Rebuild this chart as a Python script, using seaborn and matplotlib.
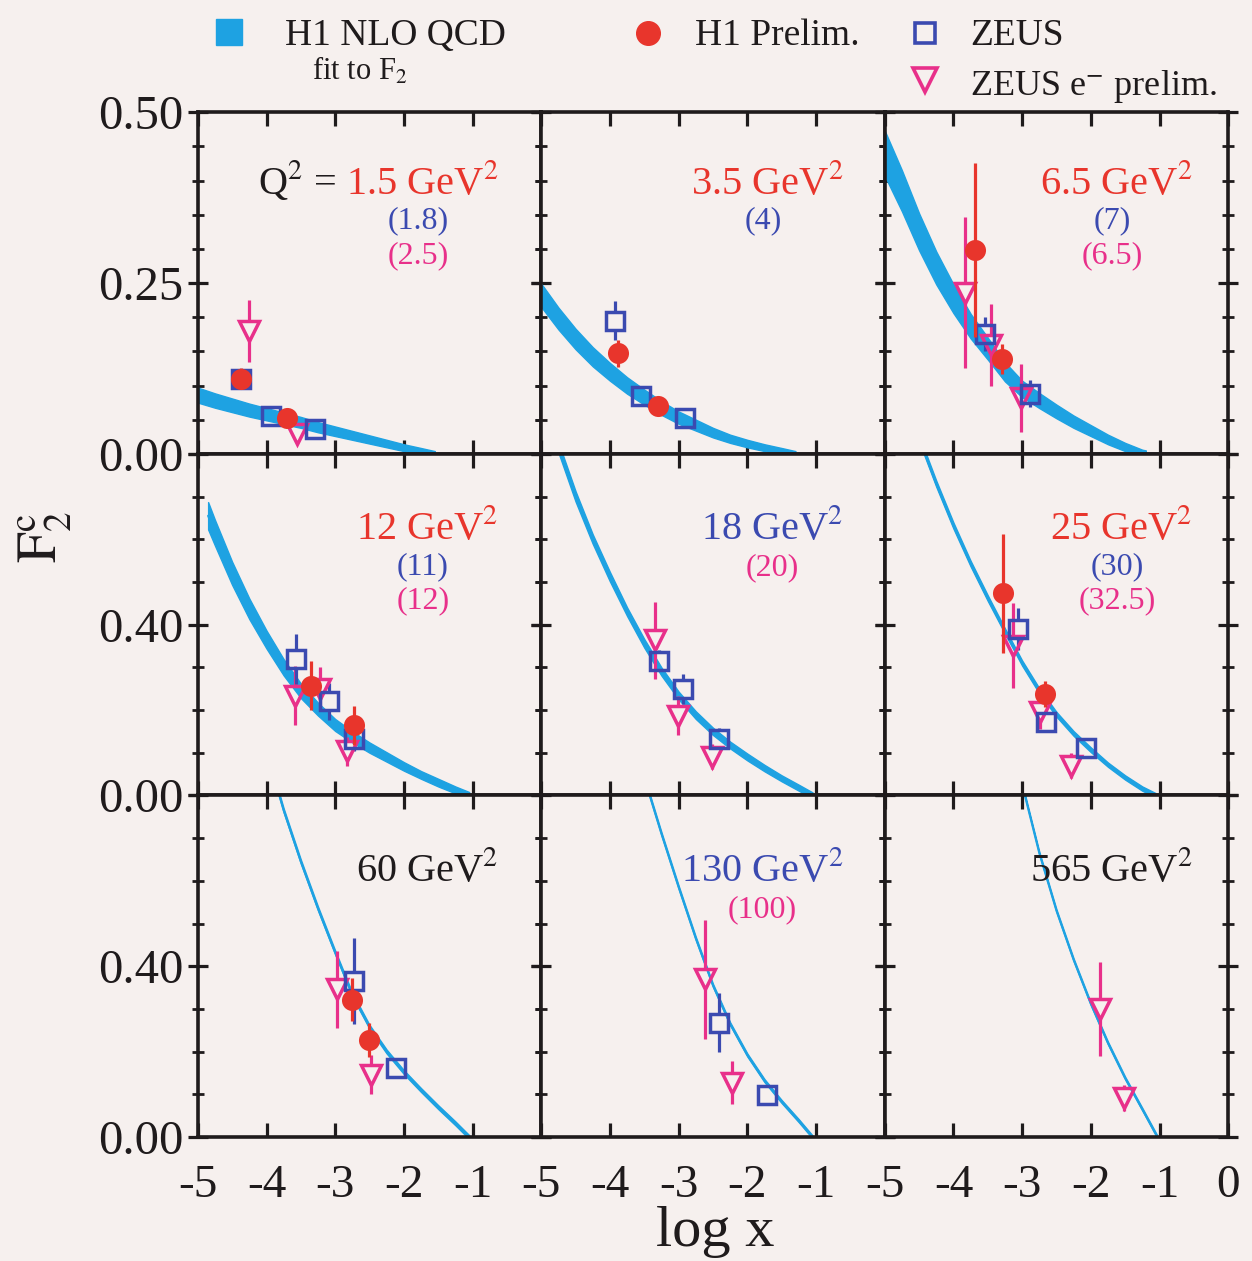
import numpy as np
import pandas as pd
import matplotlib
matplotlib.use("Agg")
import matplotlib.pyplot as plt
from matplotlib.lines import Line2D
from matplotlib.ticker import MultipleLocator
import seaborn as sns

# ---------------------------------------------------------------------------
# Panel captions: H1 Q^2 value, and the ZEUS / ZEUS e- Q^2 values in brackets
# ---------------------------------------------------------------------------
panel_q2 = ["1.5", "3.5", "6.5", "12", "18", "25", "60", "130", "565"]
panel_q2_source = ["h1", "h1", "h1", "h1", "zeus", "h1", "all", "zeus", "all"]
panel_zeus_q2 = ["(1.8)", "(4)", "(7)", "(11)", "", "(30)", "", "", ""]
panel_zeuse_q2 = ["(2.5)", "", "(6.5)", "(12)", "(20)", "(32.5)", "", "(100)", ""]

# ---------------------------------------------------------------------------
# H1 NLO QCD fit to F2: central value and half width of the band, per panel
# ---------------------------------------------------------------------------
fit1_logx = [-5.0, -4.75, -4.5, -4.25, -4.0, -3.75, -3.5, -3.25, -3.0, -2.75, -2.5, -2.25, -2.0, -1.75, -1.55]
fit1_f2 = [0.086, 0.078, 0.071, 0.064, 0.058, 0.052, 0.046, 0.039, 0.033, 0.027, 0.021, 0.015, 0.009, 0.004, 0.0]
fit1_hw = [0.011, 0.0105, 0.010, 0.0095, 0.009, 0.0085, 0.008, 0.0075, 0.007, 0.0065, 0.006, 0.0055, 0.005, 0.0045, 0.004]

fit2_logx = [-5.0, -4.75, -4.5, -4.25, -4.0, -3.75, -3.5, -3.25, -3.0, -2.75, -2.5, -2.25, -2.0, -1.75, -1.5, -1.3]
fit2_f2 = [0.232, 0.198, 0.168, 0.142, 0.120, 0.100, 0.083, 0.067, 0.053, 0.042, 0.031, 0.022, 0.015, 0.009, 0.004, 0.0]
fit2_hw = [0.017, 0.016, 0.015, 0.014, 0.013, 0.012, 0.011, 0.010, 0.009, 0.008, 0.007, 0.006, 0.0055, 0.005, 0.0045, 0.004]

fit3_logx = [-5.0, -4.75, -4.5, -4.25, -4.0, -3.75, -3.5, -3.25, -3.0, -2.75, -2.5, -2.25, -2.0, -1.75, -1.5, -1.25, -1.2]
fit3_f2 = [0.440, 0.385, 0.325, 0.272, 0.227, 0.187, 0.154, 0.120, 0.095, 0.078, 0.062, 0.047, 0.034, 0.021, 0.010, 0.001, 0.0]
fit3_hw = [0.033, 0.030, 0.027, 0.024, 0.021, 0.018, 0.016, 0.014, 0.012, 0.011, 0.010, 0.009, 0.008, 0.007, 0.006, 0.005, 0.005]

fit4_logx = [-4.85, -4.75, -4.5, -4.25, -4.0, -3.75, -3.5, -3.25, -3.0, -2.75, -2.5, -2.25, -2.0, -1.75, -1.5, -1.25, -1.05]
fit4_f2 = [0.655, 0.615, 0.520, 0.437, 0.365, 0.300, 0.245, 0.202, 0.165, 0.137, 0.112, 0.090, 0.068, 0.048, 0.030, 0.013, 0.0]
fit4_hw = [0.032, 0.030, 0.027, 0.024, 0.021, 0.019, 0.017, 0.015, 0.014, 0.013, 0.012, 0.011, 0.010, 0.009, 0.009, 0.008, 0.008]

fit5_logx = [-4.75, -4.5, -4.25, -4.0, -3.75, -3.5, -3.25, -3.0, -2.75, -2.5, -2.25, -2.0, -1.75, -1.5, -1.25, -1.05]
fit5_f2 = [0.815, 0.700, 0.600, 0.512, 0.430, 0.356, 0.290, 0.234, 0.188, 0.150, 0.118, 0.090, 0.064, 0.040, 0.018, 0.0]
fit5_hw = [0.012, 0.012, 0.011, 0.011, 0.010, 0.010, 0.0095, 0.009, 0.009, 0.0085, 0.008, 0.008, 0.0075, 0.007, 0.007, 0.007]

fit6_logx = [-4.45, -4.25, -4.0, -3.75, -3.5, -3.25, -3.0, -2.75, -2.5, -2.25, -2.0, -1.75, -1.5, -1.25, -1.05]
fit6_f2 = [0.815, 0.730, 0.632, 0.543, 0.462, 0.385, 0.310, 0.245, 0.190, 0.145, 0.107, 0.072, 0.042, 0.016, 0.0]
fit6_hw = [0.007, 0.007, 0.007, 0.0065, 0.0065, 0.006, 0.006, 0.006, 0.0055, 0.0055, 0.0055, 0.005, 0.005, 0.005, 0.005]

fit7_logx = [-3.84, -3.75, -3.5, -3.25, -3.0, -2.75, -2.5, -2.25, -2.0, -1.75, -1.5, -1.25, -1.05]
fit7_f2 = [0.815, 0.765, 0.645, 0.535, 0.432, 0.333, 0.258, 0.200, 0.152, 0.110, 0.070, 0.032, 0.0]
fit7_hw = [0.0045] * 13

fit8_logx = [-3.45, -3.25, -3.0, -2.75, -2.5, -2.25, -2.0, -1.75, -1.5, -1.25, -1.05]
fit8_f2 = [0.815, 0.710, 0.585, 0.465, 0.355, 0.265, 0.192, 0.132, 0.083, 0.038, 0.0]
fit8_hw = [0.0035] * 11

fit9_logx = [-2.96, -2.75, -2.5, -2.25, -2.0, -1.75, -1.5, -1.25, -1.03]
fit9_f2 = [0.800, 0.665, 0.530, 0.415, 0.312, 0.220, 0.138, 0.065, 0.0]
fit9_hw = [0.003] * 9

# ---------------------------------------------------------------------------
# Measurements: panel index (0..8, row by row), log x, F2c and its error
# ---------------------------------------------------------------------------
h1_panel = [0, 0, 1, 1, 2, 2, 3, 3, 5, 5, 6, 6]
h1_logx = [-4.37, -3.70, -3.88, -3.30, -3.68, -3.30, -3.35, -2.72, -3.28, -2.67, -2.75, -2.51]
h1_f2 = [0.110, 0.053, 0.147, 0.070, 0.298, 0.139, 0.257, 0.164, 0.473, 0.238, 0.322, 0.228]
h1_err = [0.015, 0.013, 0.020, 0.012, 0.127, 0.022, 0.058, 0.045, 0.140, 0.030, 0.050, 0.040]

zeus_panel = [0, 0, 0, 1, 1, 1, 2, 2, 3, 3, 3, 4, 4, 4, 5, 5, 5, 6, 6, 7, 7]
zeus_logx = [-4.37, -3.93, -3.30, -3.93, -3.55, -2.91, -3.54, -2.88, -3.57, -3.09, -2.72,
             -3.28, -2.94, -2.41, -3.06, -2.65, -2.07, -2.72, -2.12, -2.41, -1.71]
zeus_f2 = [0.110, 0.056, 0.036, 0.195, 0.085, 0.053, 0.176, 0.088, 0.320, 0.220, 0.133,
           0.316, 0.250, 0.133, 0.390, 0.173, 0.110, 0.365, 0.162, 0.268, 0.099]
zeus_err = [0.012, 0.005, 0.005, 0.028, 0.008, 0.006, 0.025, 0.020, 0.058, 0.043, 0.030,
            0.025, 0.035, 0.025, 0.050, 0.025, 0.012, 0.100, 0.015, 0.070, 0.012]

zeuse_panel = [0, 0, 2, 2, 2, 3, 3, 3, 4, 4, 4, 5, 5, 5, 6, 6, 7, 7, 8, 8]
zeuse_logx = [-4.25, -3.55, -3.83, -3.45, -3.01, -3.59, -3.22, -2.83, -3.35, -3.01, -2.51,
              -3.13, -2.74, -2.29, -2.97, -2.48, -2.62, -2.22, -1.87, -1.51]
zeuse_f2 = [0.180, 0.029, 0.236, 0.160, 0.082, 0.234, 0.250, 0.103, 0.363, 0.187, 0.091,
            0.351, 0.196, 0.070, 0.346, 0.146, 0.369, 0.127, 0.300, 0.092]
zeuse_err = [0.045, 0.015, 0.110, 0.060, 0.050, 0.070, 0.050, 0.035, 0.090, 0.045, 0.030,
             0.100, 0.040, 0.030, 0.090, 0.045, 0.140, 0.050, 0.110, 0.030]

# ---------------------------------------------------------------------------
# Styling
# ---------------------------------------------------------------------------
BG = "#f6f0ee"
INK = "#1f1b1c"
CYAN = "#1ea2e2"
RED = "#e8352c"
BLUE = "#3b4ab0"
PINK = "#e8308a"
SOURCE_COLOR = {"h1": RED, "zeus": BLUE, "all": INK}
DPI = 100

sns.set_theme(style="ticks")
plt.rcParams.update({
    "font.family": ["Liberation Serif", "DejaVu Serif"],
    "mathtext.fontset": "stix",
    "figure.facecolor": BG,
    "axes.facecolor": BG,
    "savefig.facecolor": BG,
    "axes.edgecolor": INK,
    "axes.linewidth": 2.6,
    "xtick.color": INK,
    "ytick.color": INK,
    "text.color": INK,
})

fits = [
    (fit1_logx, fit1_f2, fit1_hw), (fit2_logx, fit2_f2, fit2_hw), (fit3_logx, fit3_f2, fit3_hw),
    (fit4_logx, fit4_f2, fit4_hw), (fit5_logx, fit5_f2, fit5_hw), (fit6_logx, fit6_f2, fit6_hw),
    (fit7_logx, fit7_f2, fit7_hw), (fit8_logx, fit8_f2, fit8_hw), (fit9_logx, fit9_f2, fit9_hw),
]

h1 = pd.DataFrame({"panel": h1_panel, "logx": h1_logx, "f2": h1_f2, "err": h1_err})
zeus = pd.DataFrame({"panel": zeus_panel, "logx": zeus_logx, "f2": zeus_f2, "err": zeus_err})
zeuse = pd.DataFrame({"panel": zeuse_panel, "logx": zeuse_logx, "f2": zeuse_f2, "err": zeuse_err})

fig, axes = plt.subplots(3, 3, figsize=(12.52, 12.61), dpi=DPI,
                         gridspec_kw=dict(hspace=0, wspace=0))
fig.subplots_adjust(left=0.158, right=0.981, top=0.911, bottom=0.0983)

label_x = [0.875, 0.88, 0.895]
label_y = [0.762, 0.751, 0.75]


def open_points(ax, d, marker, ms, color, ymax):
    """Open markers with error bars that stop at the marker outline."""
    # half marker height expressed in data units of this panel
    px_per_unit = ax.get_position().height * fig.get_figheight() * DPI / ymax
    gap = (ms / 2) * DPI / 72 / px_per_unit
    x = d.logx.to_numpy()
    y = d.f2.to_numpy()
    e = d.err.to_numpy()
    keep = e > gap
    ax.vlines(x[keep], (y + gap)[keep], (y + e)[keep], colors=color, linewidth=2.3, zorder=3)
    ax.vlines(x[keep], (y - e)[keep], (y - gap)[keep], colors=color, linewidth=2.3, zorder=3)
    ax.plot(x, y, ls="none", marker=marker, ms=ms, mfc="none", mec=color, mew=2.5, zorder=4)


for i, ax in enumerate(axes.flat):
    row, col = divmod(i, 3)
    ymax = 0.5 if row == 0 else 0.8
    ax.set_xlim(-5, 0)
    ax.set_ylim(0, ymax)

    # fit band
    fx, fy, fw = (np.asarray(v, dtype=float) for v in fits[i])
    ax.fill_between(fx, fy - fw, fy + fw, color=CYAN, edgecolor=CYAN, linewidth=1.0, zorder=1)
    sns.lineplot(x=fx, y=fy, ax=ax, color=CYAN, linewidth=1.5, zorder=1)

    # ZEUS e- preliminary and ZEUS
    d = zeuse[zeuse.panel == i]
    if len(d):
        open_points(ax, d, "v", 14, PINK, ymax)
    d = zeus[zeus.panel == i]
    if len(d):
        open_points(ax, d, "s", 13, BLUE, ymax)
    # H1 preliminary
    d = h1[h1.panel == i]
    if len(d):
        ax.errorbar(d.logx, d.f2, yerr=d.err, fmt="none", ecolor=RED, elinewidth=2.3, capsize=0, zorder=5)
        sns.scatterplot(data=d, x="logx", y="f2", ax=ax, color=RED, s=230, marker="o",
                        linewidth=0, zorder=6)

    ax.set_xlim(-5, 0)
    ax.set_ylim(0, ymax)
    ax.set_xlabel("")
    ax.set_ylabel("")

    # x ticks
    ax.set_xticks([-5, -4, -3, -2, -1, 0])
    xt = ["-5", "-4", "-3", "-2", "-1", "0" if col == 2 else ""]
    ax.set_xticklabels(xt)
    ax.tick_params(axis="x", which="major", direction="in", top=True, bottom=True,
                   length=10, width=2.3, labelsize=34, pad=20,
                   labelbottom=(row == 2))
    # y ticks
    if row == 0:
        ax.set_yticks([0, 0.25, 0.5])
        ax.set_yticklabels(["0.00", "0.25", "0.50"])
        ax.yaxis.set_minor_locator(MultipleLocator(0.05))
    else:
        ax.set_yticks([0, 0.4, 0.8])
        ax.set_yticklabels(["0.00", "0.40", ""])
        ax.yaxis.set_minor_locator(MultipleLocator(0.1))
    ax.tick_params(axis="y", which="major", direction="inout", left=True, right=True,
                   length=15, width=2.3, labelsize=35, pad=3, labelleft=(col == 0))
    ax.tick_params(axis="y", which="minor", direction="inout", left=True, right=True,
                   length=9, width=2.0)
    ax.tick_params(axis="x", which="minor", bottom=False, top=False)
    for s in ax.spines.values():
        s.set_linewidth(2.6)
        s.set_zorder(10)

    # Q^2 caption
    main = ax.text(label_x[col], label_y[row], f"{panel_q2[i]} GeV$^2$", transform=ax.transAxes,
                   ha="right", va="baseline", fontsize=29,
                   color=SOURCE_COLOR[panel_q2_source[i]], zorder=7)
    if i == 0:
        ax.annotate("Q$^2$ =", xy=(0, 0), xycoords=main, xytext=(-7, 0),
                    textcoords="offset points", ha="right", va="bottom",
                    fontsize=29, color=INK)
    anchor = main
    if panel_zeus_q2[i]:
        anchor = ax.annotate(panel_zeus_q2[i], xy=(0.5, 0), xycoords=anchor,
                             xytext=(-3, -3), textcoords="offset points",
                             ha="center", va="top", fontsize=23, color=BLUE)
    if panel_zeuse_q2[i]:
        ax.annotate(panel_zeuse_q2[i], xy=(0.5, 0), xycoords=anchor,
                    xytext=(0, -4), textcoords="offset points",
                    ha="center", va="top", fontsize=23, color=PINK)

# axis titles
fig.text(0.036, 0.574, r"$\mathrm{F}_2^{\mathrm{c}}$", rotation=90, ha="center", va="center", fontsize=40)
fig.text(715 / 1252, 1 - 1246 / 1261, "log x", ha="center", va="baseline", fontsize=42)

# key along the top
def key_marker(px, py, **kw):
    fig.add_artist(Line2D([px / 1252], [1 - py / 1261], transform=fig.transFigure, ls="none", **kw))

key_marker(229, 32, marker="s", ms=19, mfc=CYAN, mec=CYAN)
fig.text(285 / 1252, 1 - 45 / 1261, "H1 NLO QCD", fontsize=27, va="baseline", ha="left")
fig.text(360 / 1252, 1 - 80 / 1261, "fit to F$_2$", fontsize=22, va="baseline", ha="center")
key_marker(648, 33, marker="o", ms=17, mfc=RED, mec=RED)
fig.text(695 / 1252, 1 - 45 / 1261, "H1 Prelim.", fontsize=27, va="baseline", ha="left")
key_marker(925, 33, marker="s", ms=15, mfc="none", mec=BLUE, mew=2.6)
fig.text(970 / 1252, 1 - 45 / 1261, "ZEUS", fontsize=27, va="baseline", ha="left")
key_marker(925, 80, marker="v", ms=17, mfc="none", mec=PINK, mew=2.6)
fig.text(970 / 1252, 1 - 95 / 1261, "ZEUS e$^{-}$ prelim.", fontsize=26, va="baseline", ha="left")

fig.savefig("out.png", dpi=DPI)
